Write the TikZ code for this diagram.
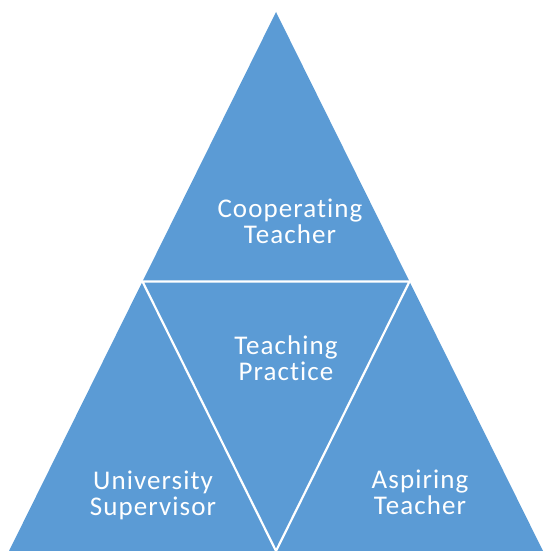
\documentclass[tikz,border=0pt]{standalone}
\usepackage{fontspec}
\setmainfont{Carlito}[Ligatures=NoCommon, LetterSpace=4]
\usetikzlibrary{calc}
\definecolor{triblue}{HTML}{5B9BD5}

\begin{document}
\begin{tikzpicture}[x=1pt,y=-1pt,
  piece/.style={fill=triblue},
  seam/.style={draw=white, line width=2.2pt, line join=miter},
  tritext/.style={text=white, align=center, inner sep=0pt,
    font=\fontsize{27}{26}\selectfont}]
  \useasboundingbox (0,0) rectangle (544,551);

  % Corners of the big triangle
  \coordinate (apex) at (276,12);
  \coordinate (bl) at (9,551);
  \coordinate (br) at (543,551);

  % Midpoints of its sides
  \coordinate (ml) at ($(apex)!0.5!(bl)$);
  \coordinate (mr) at ($(apex)!0.5!(br)$);
  \coordinate (mb) at ($(bl)!0.5!(br)$);

  % Filled triangle
  \fill[piece] (apex) -- (bl) -- (br) -- cycle;

  % White seams of the inner triangle
  \draw[seam] (ml) -- (mr) -- (mb) -- cycle;

  % Texts
  \node[tritext] (coop) at (290,221) {Cooperating\\Teacher};
  \node[tritext] (prac) at (286,358) {Teaching\\Practice};
  \node[tritext] (univ) at (153,495) {University\\Supervisor};
  \node[tritext] (asp) at (420,492) {Aspiring\\Teacher};
\end{tikzpicture}
\end{document}
